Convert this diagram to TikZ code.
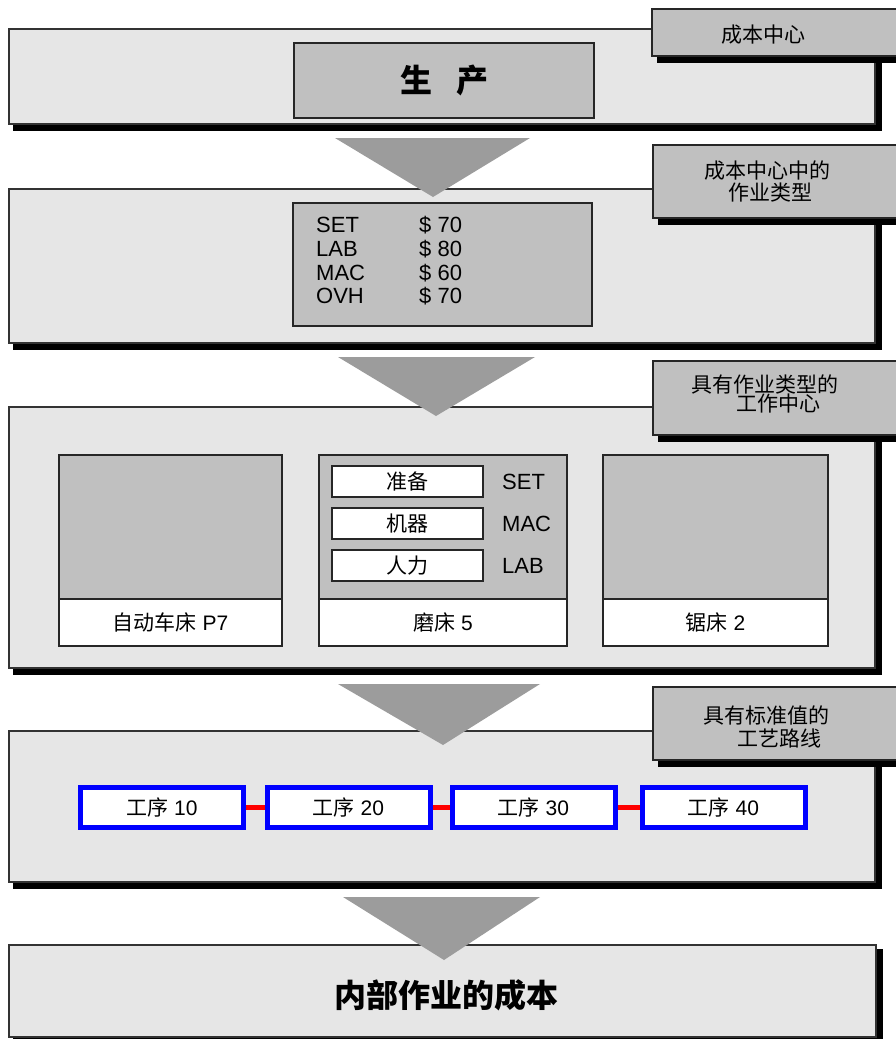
\documentclass[tikz,border=0pt]{standalone}
\usepackage{fontspec}
\setmainfont{Liberation Sans}
\newfontfamily\cjk{Noto Sans CJK SC}
\newcommand{\zh}[1]{{\cjk #1}}
\definecolor{panelgray}{HTML}{E6E6E6}
\definecolor{boxgray}{HTML}{C0C0C0}
\definecolor{arrowgray}{HTML}{9C9C9C}
\tikzset{
  panel/.style={draw=black!80, line width=1.2pt, fill=panelgray},
  tagbox/.style={draw=black!85, line width=1.2pt, fill=boxgray},
  tag/.style={font=\fontsize{21}{22}\selectfont\cjk, align=center, inner sep=0pt},
  graybox/.style={draw=black!85, line width=1.2pt, fill=boxgray, inner sep=0pt, outer sep=0pt},
  whitebox/.style={draw=black!85, line width=1.2pt, fill=white, inner sep=0pt, outer sep=0pt,
    font=\fontsize{21}{24}\selectfont},
  txt/.style={font=\fontsize{22}{24}\selectfont, inner sep=0pt},
  route/.style={draw=blue, line width=5pt, fill=white, minimum width=163pt, minimum height=40pt,
    inner sep=0pt, font=\fontsize{21}{24}\selectfont},
  link/.style={red, line width=5pt}
}
\begin{document}
\begin{tikzpicture}[x=1pt,y=-1pt]
\useasboundingbox (0,0) rectangle (895,1039);
% panels with shadows
\fill (13,33) rectangle (882,131);
\draw[panel] (9,29) rectangle (875,124);
\fill (13,193) rectangle (882,350);
\draw[panel] (9,189) rectangle (875,343);
\fill (13,411) rectangle (882,675);
\draw[panel] (9,407) rectangle (875,668);
\fill (13,735) rectangle (882,889);
\draw[panel] (9,731) rectangle (875,882);
\fill (13,949) rectangle (883,1044);
\draw[panel] (9,945) rectangle (876,1037);
% tags on the right
\fill (657,14) rectangle (900,63);
\draw[tagbox] (652,9) rectangle (900,56);
\node[tag] (tag1) at (763,35) {成本中心};
\fill (658,150) rectangle (900,225);
\draw[tagbox] (653,145) rectangle (900,218);
\node[tag] (tag2) at (767,181) {成本中心中的\\\hspace*{6pt}作业类型};
\fill (658,366) rectangle (900,442);
\draw[tagbox] (653,361) rectangle (900,435);
\node[tag] (tag3) at (765,394) {具有作业类型的\\[-3pt]\hspace*{26pt}工作中心};
\fill (658,692) rectangle (900,767);
\draw[tagbox] (653,687) rectangle (900,760);
\node[tag] (tag4) at (766,726.5) {具有标准值的\\[1pt]\hspace*{26pt}工艺路线};
% production
\node[graybox, minimum width=300pt, minimum height=75pt,
  font=\fontsize{32}{32}\selectfont\cjk\bfseries] (prod) at (444,80.5) {生\hspace{24pt}产};
% activity types
\node[graybox, minimum width=299pt, minimum height=123pt] (rates) at (442.5,264.5) {};
\node[txt, anchor=base west] (set) at (316,232) {SET};
\node[txt, anchor=base west] (lab) at (316,256) {LAB};
\node[txt, anchor=base west] (mac) at (316,280) {MAC};
\node[txt, anchor=base west] (ovh) at (316,303) {OVH};
\node[txt, anchor=base west] (setrate) at (419,232) {\$ 70};
\node[txt, anchor=base west] (labrate) at (419,256) {\$ 80};
\node[txt, anchor=base west] (macrate) at (419,280) {\$ 60};
\node[txt, anchor=base west] (ovhrate) at (419,303) {\$ 70};
% work centres
\node[graybox, minimum width=223pt, minimum height=144pt, anchor=north west] (lathe) at (59,455) {};
\node[whitebox, minimum width=223pt, minimum height=47pt, anchor=north] (lathename) at (lathe.south) {\zh{自动车床} P7};
\node[graybox, minimum width=248pt, minimum height=144pt, anchor=north west] (grinder) at (319,455) {};
\node[whitebox, minimum width=248pt, minimum height=47pt, anchor=north] (grindername) at (grinder.south) {\zh{磨床} 5};
\node[graybox, minimum width=225pt, minimum height=144pt, anchor=north west] (saw) at (603,455) {};
\node[whitebox, minimum width=225pt, minimum height=47pt, anchor=north] (sawname) at (saw.south) {\zh{锯床} 2};
\node[whitebox, minimum width=151pt, minimum height=31pt, font=\fontsize{21}{24}\selectfont\cjk] (setup) at (407.5,481.5) {准备};
\node[whitebox, minimum width=151pt, minimum height=31pt, font=\fontsize{21}{24}\selectfont\cjk] (machine) at (407.5,523.5) {机器};
\node[whitebox, minimum width=151pt, minimum height=31pt, font=\fontsize{21}{24}\selectfont\cjk] (labour) at (407.5,565.5) {人力};
\node[txt, anchor=west] (setkey) at (502,482) {SET};
\node[txt, anchor=west] (mackey) at (502,524) {MAC};
\node[txt, anchor=west] (labkey) at (502,566) {LAB};
% routing
\node[route] (op10) at (162,807.5) {\zh{工序} 10};
\node[route] (op20) at (348.5,807.5) {\zh{工序} 20};
\node[route] (op30) at (533.5,807.5) {\zh{工序} 30};
\node[route] (op40) at (723.5,807.5) {\zh{工序} 40};
\draw[link] (op10) -- (op20);
\draw[link] (op20) -- (op30);
\draw[link] (op30) -- (op40);
% internal cost
\node[font=\fontsize{32}{32}\selectfont\cjk\bfseries] (cost) at (446,995) {内部作业的成本};
% arrows
\fill[arrowgray] (335,138) -- (530,138) -- (433,197) -- cycle;
\fill[arrowgray] (338,357) -- (535,357) -- (436,416) -- cycle;
\fill[arrowgray] (338,684) -- (540,684) -- (443,745) -- cycle;
\fill[arrowgray] (343,897) -- (540,897) -- (444,960) -- cycle;
\end{tikzpicture}
\end{document}
